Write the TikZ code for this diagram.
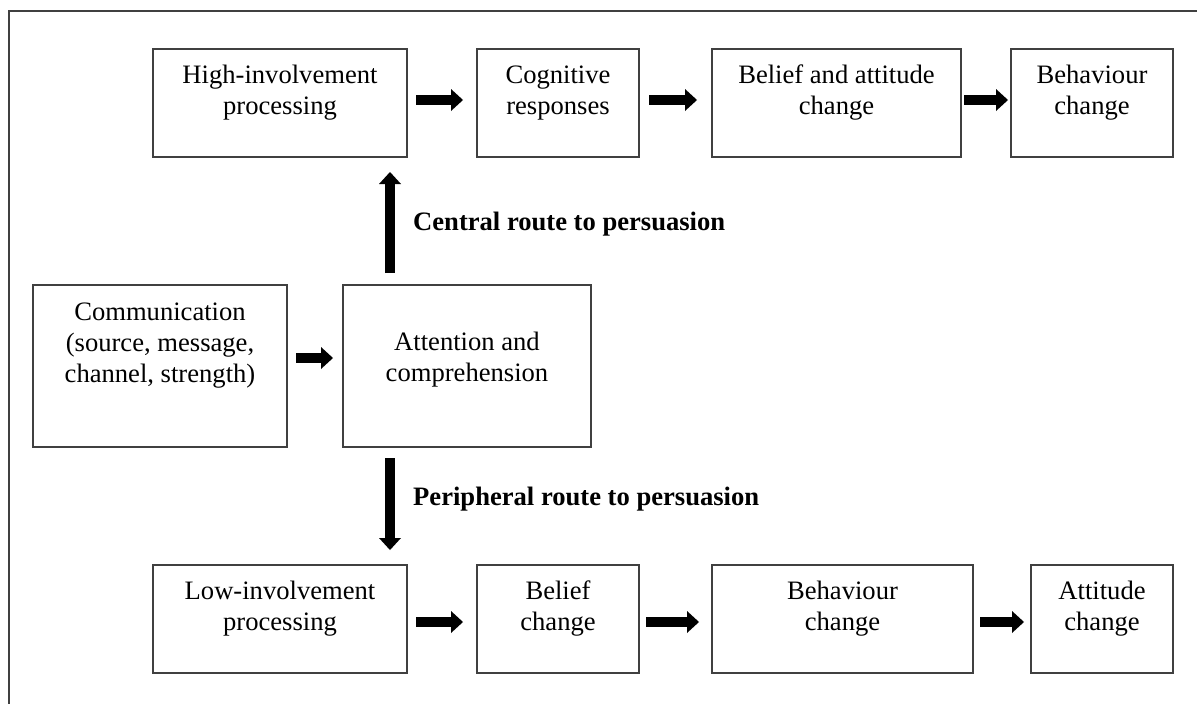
\documentclass[tikz,border=0pt]{standalone}
\usepackage{fontspec}
\setmainfont{Liberation Serif}
\usetikzlibrary{arrows.meta}
\definecolor{framegray}{HTML}{404040}
\begin{document}
\begin{tikzpicture}[x=1pt,y=-1pt,
  box/.style={draw=framegray, line width=1.4pt, inner sep=0pt, outer sep=0pt},
  txt/.style={align=center, inner sep=0pt, anchor=north,
    font=\fontsize{26.6}{31}\selectfont},
  routelabel/.style={inner sep=0pt, anchor=base west,
    font=\fontsize{26.6}{31}\selectfont\bfseries},
  barrow/.style={line width=10.5pt, black,
    -{Triangle[length=12pt,width=22pt,line width=0pt]}}]
\useasboundingbox (0,0) rectangle (1197,704);

% outer frame (left and top edges visible)
\draw[framegray, line width=1.4pt] (9,704) -- (9,11) -- (1197,11);

% central route (top row)
\node[box, minimum width=254pt, minimum height=108pt] (hi)   at (280,103)   {};
\node[box, minimum width=162pt, minimum height=108pt] (cog)  at (558,103)   {};
\node[box, minimum width=249pt, minimum height=108pt] (bac)  at (836.5,103) {};
\node[box, minimum width=162pt, minimum height=108pt] (beh1) at (1092,103)  {};

% input and attention (middle row)
\node[box, minimum width=254pt, minimum height=162pt] (com) at (160,366) {};
\node[box, minimum width=248pt, minimum height=162pt] (att) at (467,366) {};

% peripheral route (bottom row)
\node[box, minimum width=254pt, minimum height=108pt] (low)  at (280,619)   {};
\node[box, minimum width=162pt, minimum height=108pt] (bel)  at (558,619)   {};
\node[box, minimum width=261pt, minimum height=108pt] (beh2) at (842.5,619) {};
\node[box, minimum width=142pt, minimum height=108pt] (att2) at (1102,619)  {};

% box texts
\node[txt] (hi-t)   at (280,61.3)   {High-involvement\strut\\processing\strut};
\node[txt] (cog-t)  at (558,61.3)   {Cognitive\strut\\responses\strut};
\node[txt] (bac-t)  at (836.5,61.3) {Belief and attitude\strut\\change\strut};
\node[txt] (beh1-t) at (1092,61.3)  {Behaviour\strut\\change\strut};
\node[txt] (com-t)  at (160,298.3)  {Communication\strut\\(source, message,\strut\\channel, strength)\strut};
\node[txt] (att-t)  at (467,328.3)  {Attention and\strut\\comprehension\strut};
\node[txt] (low-t)  at (280,577.3)  {Low-involvement\strut\\processing\strut};
\node[txt] (bel-t)  at (558,577.3)  {Belief\strut\\change\strut};
\node[txt] (beh2-t) at (842.5,577.3){Behaviour\strut\\change\strut};
\node[txt] (att2-t) at (1102,577.3) {Attitude\strut\\change\strut};

% route labels
\node[routelabel] (central)    at (413,230) {Central route to persuasion};
\node[routelabel] (peripheral) at (413,505) {Peripheral route to persuasion};

% connectors
\draw[barrow, shorten <=9pt,  shorten >=14pt] ([yshift=3pt]hi.east)  -- ([yshift=3pt]cog.west);
\draw[barrow, shorten <=10pt, shorten >=15pt] ([yshift=3pt]cog.east) -- ([yshift=3pt]bac.west);
\draw[barrow, shorten <=3pt,  shorten >=3pt]  ([yshift=3pt]bac.east) -- ([yshift=3pt]beh1.west);
\draw[barrow, shorten <=9pt,  shorten >=10pt] ([yshift=8pt]com.east) -- ([yshift=8pt]att.west);
\draw[barrow, shorten <=12pt, shorten >=15pt] ([xshift=-77pt]att.north) -- ([xshift=-77pt]att.north |- hi.south);
\draw[barrow, shorten <=11pt, shorten >=15pt] ([xshift=-77pt]att.south) -- ([xshift=-77pt]att.south |- low.north);
\draw[barrow, shorten <=9pt,  shorten >=14pt] ([yshift=-3pt]low.east)  -- ([yshift=-3pt]bel.west);
\draw[barrow, shorten <=7pt,  shorten >=13pt] ([yshift=-3pt]bel.east)  -- ([yshift=-3pt]beh2.west);
\draw[barrow, shorten <=7pt,  shorten >=7pt]  ([yshift=-3pt]beh2.east) -- ([yshift=-3pt]att2.west);
\end{tikzpicture}
\end{document}
